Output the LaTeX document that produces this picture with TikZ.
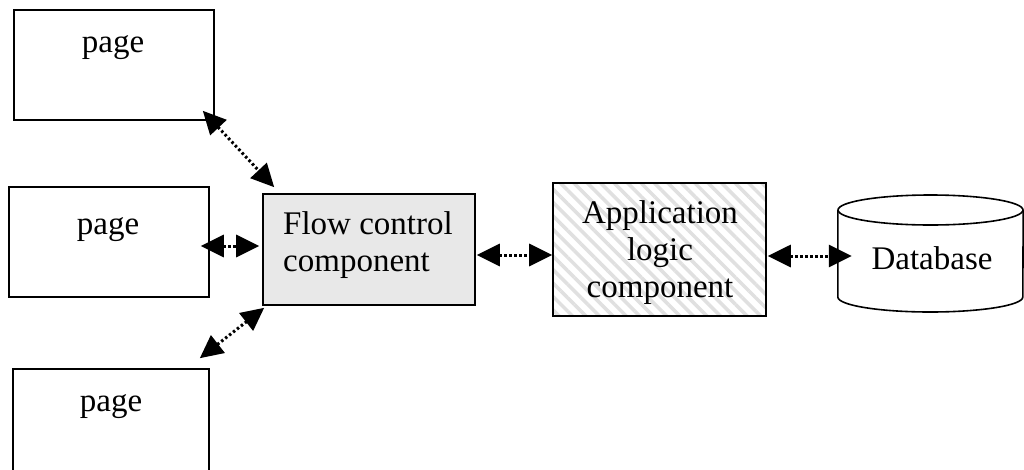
\documentclass[tikz,border=0pt]{standalone}
\usepackage{fontspec}
\setmainfont{Liberation Serif}
\usetikzlibrary{arrows.meta,patterns.meta,calc}
\begin{document}
\begin{tikzpicture}[x=1pt,y=-1pt,
  font=\fontsize{33}{37}\selectfont,
  box/.style={draw=black,line width=1.6pt,inner sep=0pt,minimum width=200pt,minimum height=110pt,fill=white},
  flowbox/.style={box,fill=black!9,minimum width=212pt,minimum height=111pt},
  appbox/.style={draw=black,line width=1.6pt,inner sep=0pt,minimum width=213pt,minimum height=133pt,
    preaction={fill=white},
    preaction={pattern={Lines[angle=-45,distance=9.5pt,line width=3.5pt]},pattern color=black!12}},
  link/.style={line width=3pt,dash pattern=on 2.5pt off 2.5pt,
    {Triangle[length=23pt,width=22pt,sep=0pt]}-{Triangle[length=23pt,width=22pt,sep=0pt]}},
  lbl/.style={anchor=base,inner sep=0pt,align=center}]
\useasboundingbox (0,0) rectangle (1024,469);
% page boxes
\node[box] (p1) at (114,65) {};
\node[box] (p2) at (109,242) {};
\node[box,minimum width=196pt,minimum height=112pt] (p3) at (111,425) {};
\node[lbl] (t1) at (113,52) {page};
\node[lbl] (t2) at (108,234) {page};
\node[lbl] (t3) at (111,411) {page};
% flow control
\node[flowbox] (flow) at (369,249.5) {};
\node[lbl,anchor=base west,align=left] (tf) at (283,271) {Flow control\\component};
% application logic
\node[appbox] (app) at (659.5,249.5) {};
\node[lbl] (ta) at (660,297) {Application\\logic\\component};
% database
\node[inner sep=0pt,minimum width=185pt,minimum height=117pt] (db) at (930.5,253.5) {};
\draw[line width=1.6pt,fill=white] (db.west |- 0,210) -- (db.west |- 0,297)
  arc[start angle=180,end angle=0,x radius=92.5,y radius=15] -- (db.east |- 0,210);
\draw[line width=1.6pt,fill=white] (930.5,210) ellipse[x radius=92.5,y radius=15];
\node[lbl] (td) at (932,269) {Database};
% connectors
\draw[link] ([shift={(-12,-10)}]p1.south east) -- ([shift={(12,-6)}]flow.north west);
\draw[link] ([shift={(-9,4)}]p2.east) -- ([shift={(-3,-3.5)}]flow.west);
\draw[link] ([shift={(-10,-10)}]p3.north east) -- ([shift={(2,2)}]flow.south west);
\draw[link] ([shift={(1,5.5)}]flow.east) -- ([shift={(0,5.5)}]app.west);
\draw[link] ([shift={(1,6.5)}]app.east) -- ([shift={(14,2.5)}]db.west);
\end{tikzpicture}
\end{document}
